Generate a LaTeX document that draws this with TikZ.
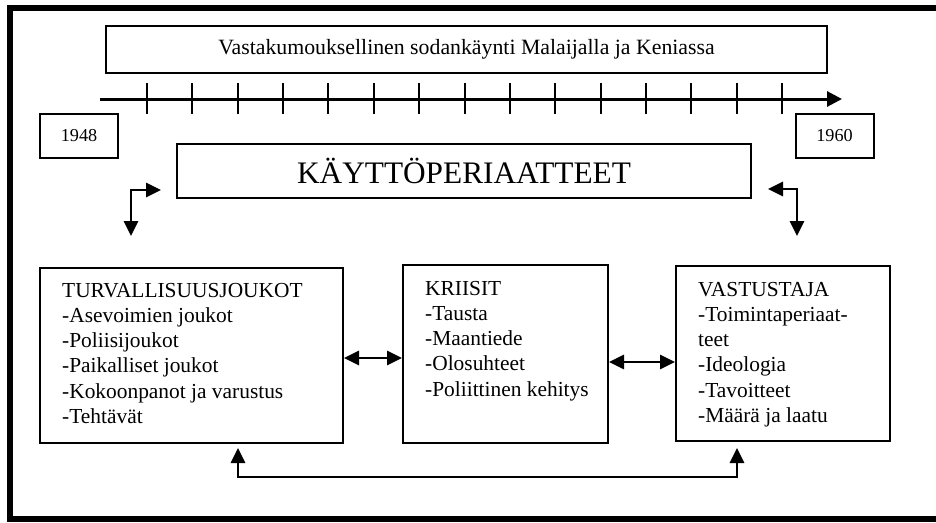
\documentclass[tikz,border=0pt]{standalone}
\usepackage{fontspec}
\setmainfont{Liberation Serif}
\usetikzlibrary{arrows.meta}
\begin{document}
\begin{tikzpicture}[x=1pt,y=-1pt,
  boxst/.style={draw, line width=2pt, rectangle, inner sep=0pt},
  tipst/.tip={Triangle[length=15pt,width=14pt]},
  conn/.style={line width=2.7pt, tipst-tipst},
  listst/.style={font=\fontsize{21.4}{25.2}\selectfont, align=left, inner sep=0pt, anchor=north west},
  yearst/.style={boxst, minimum width=78pt, minimum height=44pt, font=\fontsize{18.2}{21}\selectfont}
]
\useasboundingbox (0,0) rectangle (936,522);
% outer frame
\draw[line width=6pt] (950,8) -- (10,8) -- (10,519) -- (950,519);
% title box
\node[boxst, minimum width=721pt, minimum height=47pt, font=\fontsize{21.8}{25}\selectfont] (title) at (466.5,49.5) {Vastakumouksellinen sodankäynti Malaijalla ja Keniassa};
% timeline
\coordinate (tl0) at (100,99);
\coordinate (tl1) at (842,99);
\draw[line width=3pt, -{Triangle[length=15pt,width=15pt]}] (tl0) -- (tl1);
\foreach \i in {0,...,14} \draw[line width=2pt] ({147+\i*45.357},83) -- ({147+\i*45.357},114);
% years
\node[yearst] (y48) at (79,136) {1948};
\node[yearst] (y60) at (834.5,135.5) {1960};
% main box
\node[boxst, minimum width=574pt, minimum height=54pt, font=\fontsize{31.3}{36}\selectfont] (kp) at (464,171) {KÄYTTÖPERIAATTEET};
% bent arrows
\coordinate (lt) at (161,190);
\coordinate (lc) at (131,190);
\coordinate (ld) at (131,236);
\draw[conn] (lt) -- (lc) -- (ld);
\coordinate (rt) at (768,189);
\coordinate (rc) at (797,189);
\coordinate (rd) at (797,236);
\draw[conn] (rt) -- (rc) -- (rd);
% lower boxes
\node[boxst, minimum width=303pt, minimum height=175pt] (turv) at (191.5,355.5) {};
\node[boxst, minimum width=205pt, minimum height=178pt] (kriisit) at (505.5,354) {};
\node[boxst, minimum width=214pt, minimum height=175pt] (vast) at (783,353.5) {};
\node[listst] (turvtxt) at (62,283) {TURVALLISUUSJOUKOT\\-Asevoimien joukot\\-Poliisijoukot\\-Paikalliset joukot\\-Kokoonpanot ja varustus\\-Tehtävät};
\node[listst] (krtxt) at (425,281) {KRIISIT\\-Tausta\\-Maantiede\\-Olosuhteet\\-Poliittinen kehitys};
\node[listst] (vatxt) at (698,282) {VASTUSTAJA\\-Toimintaperiaat-\\teet\\-Ideologia\\-Tavoitteet\\-Määrä ja laatu};
% connectors between boxes
\draw[conn] (turv.east |- 0,358) -- (kriisit.west |- 0,358);
\draw[conn] (kriisit.east |- 0,362) -- (vast.west |- 0,362);
\coordinate (b1) at (238,448);
\coordinate (b2) at (238,477);
\coordinate (b3) at (737,477);
\coordinate (b4) at (737,448);
\draw[conn] (b1) -- (b2) -- (b3) -- (b4);
\end{tikzpicture}
\end{document}
